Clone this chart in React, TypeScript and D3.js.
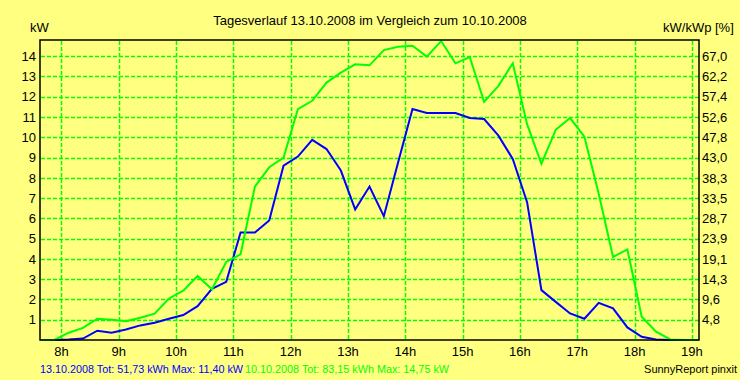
import React from "react";
import * as d3 from "d3";

const times: number[] = [
  7.625, 7.875, 8.125, 8.375, 8.625, 8.875, 9.125, 9.375, 9.625, 9.875,
  10.125, 10.375, 10.625, 10.875, 11.125, 11.375, 11.625, 11.875, 12.125, 12.375,
  12.625, 12.875, 13.125, 13.375, 13.625, 13.875, 14.125, 14.375, 14.625, 14.875,
  15.125, 15.375, 15.625, 15.875, 16.125, 16.375, 16.625, 16.875, 17.125, 17.375,
  17.625, 17.875, 18.125, 18.375, 18.625, 18.875, 19.125,
];

const day13: number[] = [
  0, 0, 0.02, 0.07, 0.46, 0.36, 0.52, 0.72, 0.85, 1.05,
  1.23, 1.67, 2.52, 2.87, 5.3, 5.3, 5.9, 8.6, 9.05, 9.87,
  9.42, 8.36, 6.44, 7.57, 6.11, 8.77, 11.4, 11.2, 11.2, 11.2,
  10.95, 10.9, 10.08, 8.93, 6.8, 2.46, 1.88, 1.31, 1.05, 1.83,
  1.56, 0.62, 0.16, 0.03, 0, 0, 0,
];

const day10: number[] = [
  0, 0, 0.36, 0.6, 1.05, 1.0, 0.93, 1.1, 1.3, 2.05,
  2.43, 3.16, 2.5, 3.85, 4.23, 7.57, 8.52, 9.0, 11.39, 11.8,
  12.7, 13.19, 13.6, 13.55, 14.3, 14.47, 14.52, 13.98, 14.75, 13.65,
  13.96, 11.75, 12.54, 13.65, 10.65, 8.69, 10.37, 10.95, 10.03, 7.21,
  4.1, 4.47, 1.15, 0.41, 0.03, 0, 0,
];

const hourTicks: number[] = [8, 9, 10, 11, 12, 13, 14, 15, 16, 17, 18, 19];
const kwTicks: number[] = [1, 2, 3, 4, 5, 6, 7, 8, 9, 10, 11, 12, 13, 14];
const pctLabels: string[] = [
  "4,8", "9,6", "14,3", "19,1", "23,9", "28,7", "33,5",
  "38,3", "43,0", "47,8", "52,6", "57,4", "62,2", "67,0",
];

const title = "Tagesverlauf 13.10.2008 im Vergleich zum 10.10.2008";
const legend13 = "13.10.2008 Tot: 51,73 kWh Max: 11,40 kW";
const legend10 = "10.10.2008 Tot: 83,15 kWh Max: 14,75 kW";

const W = 740;
const H = 380;
const left = 40;
const right = 699;
const top = 40;
const bottom = 340;
const font = "Arial, 'Liberation Sans', sans-serif";

export default function App() {
  const x = d3.scaleLinear().domain([7.625, 19.125]).range([left, right]);
  const y = d3.scaleLinear().domain([0, 14.8]).range([bottom, top]);

  const line = d3
    .line<number>()
    .x((_, i) => x(times[i]))
    .y((d) => y(d));

  return (
    <svg
      width={W}
      height={H}
      style={{ position: "absolute", left: 0, top: 0, display: "block" }}
      fontFamily={font}
    >
      <rect x={0} y={0} width={W} height={H} fill="#ffff80" />
      {/* grid */}
      {kwTicks.map((t) => (
        <line
          key={"h" + t}
          x1={left + 1}
          x2={right}
          y1={Math.round(y(t)) + 0.5}
          y2={Math.round(y(t)) + 0.5}
          stroke="#00ff00"
          strokeWidth={1.5}
          strokeDasharray="4,2"
        />
      ))}
      {hourTicks.map((t) => (
        <line
          key={"v" + t}
          x1={Math.round(x(t)) + 0.5}
          x2={Math.round(x(t)) + 0.5}
          y1={top + 1}
          y2={bottom}
          stroke="#00ff00"
          strokeWidth={1.5}
          strokeDasharray="4,2"
        />
      ))}
      {/* lines */}
      <path d={line(day13) || ""} fill="none" stroke="#0000ff" strokeWidth={2} />
      <path d={line(day10) || ""} fill="none" stroke="#00ff00" strokeWidth={2} />
      {/* frame */}
      <rect
        x={left}
        y={top}
        width={right - left}
        height={bottom - top}
        fill="none"
        stroke="#000"
        strokeWidth={1.5}
      />
      {/* left ticks */}
      {kwTicks.map((t) => (
        <text
          key={"l" + t}
          x={36}
          y={y(t)}
          dy="0.36em"
          textAnchor="end"
          fontSize={13}
          fill="#000"
        >
          {t}
        </text>
      ))}
      {kwTicks.map((t, i) => (
        <text
          key={"r" + t}
          x={702}
          y={y(t)}
          dy="0.36em"
          textAnchor="start"
          fontSize={13}
          fill="#000"
        >
          {pctLabels[i]}
        </text>
      ))}
      {hourTicks.map((t) => (
        <text
          key={"x" + t}
          x={x(t)}
          y={356}
          textAnchor="middle"
          fontSize={13}
          fill="#000"
        >
          {t + "h"}
        </text>
      ))}
      <text x={370} y={25} textAnchor="middle" fontSize={13} fill="#000">
        {title}
      </text>
      <text x={30} y={32} fontSize={13} fill="#000">
        kW
      </text>
      <text x={663} y={32} fontSize={13} fill="#000">
        kW/kWp [%]
      </text>
      <text
        x={40}
        y={373}
        fontSize={11}
        fill="#0000ff"
        textLength={203}
        lengthAdjust="spacingAndGlyphs"
      >
        {legend13}
      </text>
      <text
        x={245}
        y={373}
        fontSize={11}
        fill="#00ff00"
        textLength={204}
        lengthAdjust="spacingAndGlyphs"
      >
        {legend10}
      </text>
      <text x={737} y={373} textAnchor="end" fontSize={11} fill="#000">
        SunnyReport pinxit
      </text>
    </svg>
  );
}
